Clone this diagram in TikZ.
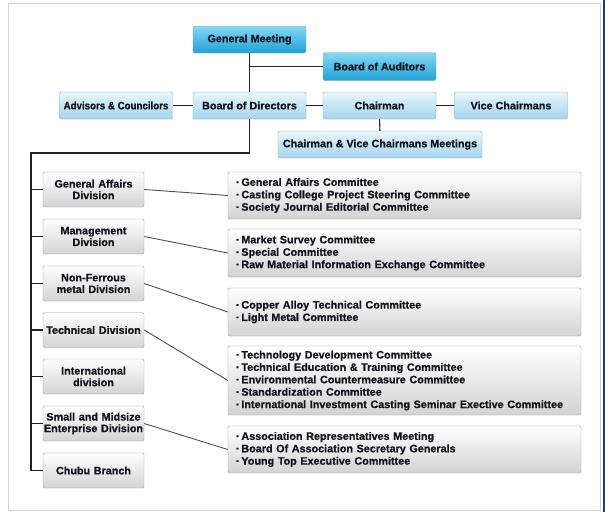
\documentclass[tikz,border=0pt]{standalone}
\usepackage{fontspec}
\setmainfont{Liberation Sans}[BoldFeatures={FakeBold=0.8}]
\newfontfamily\narrowf{Liberation Sans}[FakeStretch=0.9, BoldFeatures={FakeBold=0.8}]
\definecolor{txt}{HTML}{14141E}
\definecolor{gmtop}{HTML}{86D8F2}
\definecolor{gmbot}{HTML}{1EA2D8}
\definecolor{lbtop}{HTML}{E8F6FC}
\definecolor{lbbot}{HTML}{A3D5EE}
\definecolor{bluebd}{HTML}{8FA9B8}
\definecolor{grtop}{HTML}{FFFFFF}
\definecolor{grbot}{HTML}{D3D3D3}
\definecolor{greybd}{HTML}{9C9C9C}
\definecolor{framec}{HTML}{D4D4D4}
\definecolor{strip}{HTML}{1B3C87}
\definecolor{treec}{HTML}{222222}
\definecolor{diagc}{HTML}{505050}
\tikzset{
  basebox/.style={rounded corners=1.5pt, inner sep=0pt, text=txt,
    font=\fontsize{10.8}{11.6}\selectfont\bfseries},
  darkbox/.style={basebox, draw=bluebd, top color=gmtop, bottom color=gmbot,
    minimum width=113pt, minimum height=27pt},
  lightbox/.style={basebox, draw=bluebd, top color=lbtop, bottom color=lbbot,
    minimum width=113pt, minimum height=27pt},
  divbox/.style={basebox, draw=greybd, top color=grtop, bottom color=grbot,
    minimum width=101pt, minimum height=35pt, align=center, text width=101pt},
  combox/.style={basebox, draw=greybd, top color=grtop, bottom color=grbot,
    minimum width=353pt, text width=337pt, align=left, inner xsep=8pt,
    font=\fontsize{10.8}{12.4}\selectfont\bfseries},
  tree/.style={draw=treec, line width=1.1pt},
  diag/.style={draw=diagc, line width=0.9pt}
}
\begin{document}
\begin{tikzpicture}[x=1pt,y=-1pt]
\useasboundingbox (0,0) rectangle (605,512);
\fill[white] (0,0) rectangle (605,512);
\draw[framec, line width=1pt] (8.5,3.5) rectangle (600.5,510.5);
\fill[strip] (602.5,0) rectangle (605,512);

% top part
\node[darkbox] (gm) at (249.5,39.5) {General Meeting};
\node[darkbox, minimum height=28pt] (aud) at (379.5,66.5) {Board of Auditors};
\node[lightbox] (adv) at (116,105.5) {\narrowf Advisors \& Councilors};
\node[lightbox] (bod) at (249.5,105.5) {Board of Directors};
\node[lightbox] (chair) at (379.5,105.5) {Chairman};
\node[lightbox] (vice) at (511,105.5) {Vice Chairmans};
\node[lightbox, minimum width=204pt] (cvc) at (380,144.5) {Chairman \& Vice Chairmans Meetings};

\coordinate (trunk) at (31,153);

% divisions
\node[divbox] (d1) at (93.5,189.5) {General Affairs\\Division};
\node[divbox] (d2) at (93.5,236.5) {Management\\Division};
\node[divbox] (d3) at (93.5,283.5) {Non-Ferrous\\metal Division};
\node[divbox] (d4) at (93.5,330) {Technical Division};
\node[divbox] (d5) at (93.5,376.5) {International\\division};
\node[divbox] (d6) at (93.5,423.5) {Small and Midsize\\Enterprise Division};
\node[divbox] (d7) at (93.5,470.5) {Chubu Branch};

% committees
\node[combox, minimum height=47pt] (c1) at (404.5,195.5) {%
·\,General Affairs Committee\\
·\,Casting College Project Steering Committee\\
·\,Society Journal Editorial Committee};
\node[combox, minimum height=48pt] (c2) at (404.5,253) {%
·\,Market Survey Committee\\
·\,Special Committee\\
·\,Raw Material Information Exchange Committee};
\node[combox, minimum height=48pt] (c3) at (404.5,312) {%
·\,Copper Alloy Technical Committee\\
·\,Light Metal Committee};
\node[combox, minimum height=69pt] (c4) at (404.5,380.5) {%
·\,Technology Development Committee\\
·\,Technical Education \& Training Committee\\
·\,Environmental Countermeasure Committee\\
·\,Standardization Committee\\
·\,International Investment Casting Seminar Exective Committee};
\node[combox, minimum height=47pt] (c5) at (404.5,449.5) {%
·\,Association Representatives Meeting\\
·\,Board Of Association Secretary Generals\\
·\,Young Top Executive Committee};

% connectors top
\draw[tree] (gm.south) -- (bod.north);
\draw[tree] (aud.west) -- (aud.west -| gm.south);
\draw[tree] (adv.east) -- (bod.west);
\draw[tree] (bod.east) -- (chair.west);
\draw[tree] (chair.east) -- (vice.west);
\draw[tree] (chair.south) -- (cvc.north);
\draw[tree] (bod.south) |- (trunk) -- (d7.west -| trunk) -- (d7.west);
\foreach \d in {d1,d2,d3,d4,d5,d6}{
  \draw[tree] (\d.west -| trunk) -- (\d.west);
}

% diagonal connectors
\draw[diag] (d1.east) -- (c1.west);
\draw[diag] (d2.east) -- (c2.west);
\draw[diag] (d3.east) -- (c3.west);
\draw[diag] (d4.east) -- (c4.west);
\draw[diag] (d6.east) -- (c5.west);
\end{tikzpicture}
\end{document}
